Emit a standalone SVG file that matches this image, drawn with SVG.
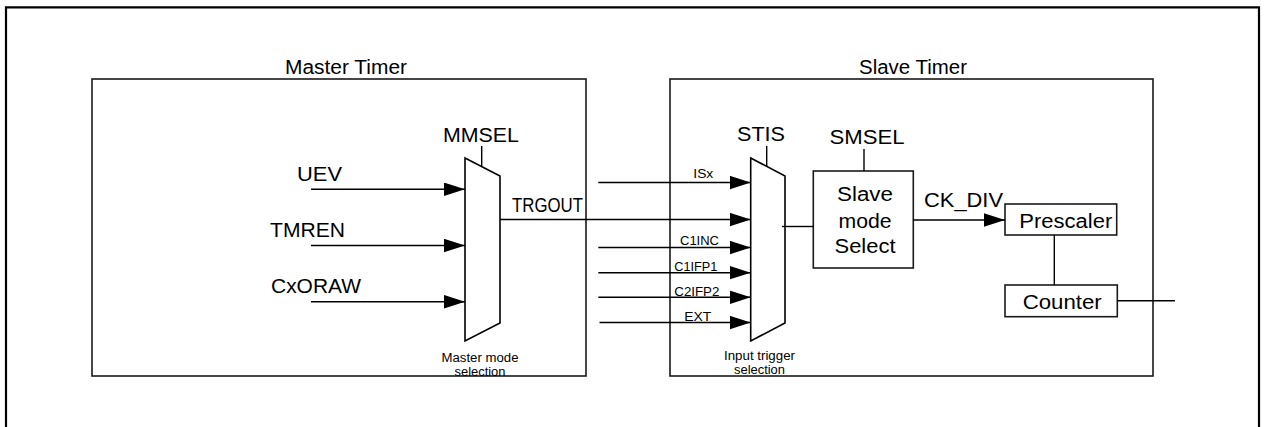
<svg xmlns="http://www.w3.org/2000/svg" width="1265" height="427" viewBox="0 0 1265 427">
<defs>
<marker id="arr" markerUnits="userSpaceOnUse" markerWidth="22" markerHeight="14" refX="21" refY="6.75" orient="auto">
<path d="M0,0 L21,6.75 L0,13.5 z" fill="#000"/>
</marker>
<style>
text{font-family:"Liberation Sans",Arial,sans-serif;fill:#000}
.frame{fill:none;stroke:#000;stroke-width:2.2}
.box{fill:#fff;stroke:#1a1a1a;stroke-width:1.6}
.mux{fill:#fff;stroke:#000;stroke-width:1.6}
.ln{fill:none;stroke:#000;stroke-width:1.4}
.ar{fill:none;stroke:#000;stroke-width:1.4;marker-end:url(#arr)}
.t20{font-size:20px}
.t12{font-size:12px}
.t11{font-size:11.5px}
</style>
</defs>
<rect width="1265" height="427" fill="#fff"/>
<path class="frame" d="M6,432 V7.3 H1259 V432"/>

<g id="master-timer">
<rect class="box" x="92" y="79" width="494" height="297"/>
<text class="t20" x="346" y="74" text-anchor="middle" textLength="122" lengthAdjust="spacingAndGlyphs">Master Timer</text>
</g>

<g id="slave-timer">
<rect class="box" x="670" y="79" width="483" height="297"/>
<text class="t20" x="913" y="74" text-anchor="middle" textLength="108" lengthAdjust="spacingAndGlyphs">Slave Timer</text>
</g>

<g id="mmsel-mux">
<polygon class="mux" points="465,158 500,176 500,323 465,341"/>
<text class="t20" x="481" y="141.7" text-anchor="middle" textLength="76" lengthAdjust="spacingAndGlyphs">MMSEL</text>
<text class="t12" x="480" y="362" text-anchor="middle" textLength="77" lengthAdjust="spacingAndGlyphs">Master mode</text>
<text class="t12" x="480" y="375.5" text-anchor="middle" textLength="51" lengthAdjust="spacingAndGlyphs">selection</text>
</g>

<g id="stis-mux">
<polygon class="mux" points="750.7,158 785,176 785,323 750.7,341"/>
<text class="t20" x="761" y="141" text-anchor="middle" textLength="48" lengthAdjust="spacingAndGlyphs">STIS</text>
<text class="t12" x="759.5" y="360" text-anchor="middle" textLength="71" lengthAdjust="spacingAndGlyphs">Input trigger</text>
<text class="t12" x="759.5" y="374" text-anchor="middle" textLength="51" lengthAdjust="spacingAndGlyphs">selection</text>
</g>

<g id="slave-mode-select">
<rect class="box" x="813.3" y="171" width="100" height="97"/>
<text class="t20" x="867" y="144.3" text-anchor="middle" textLength="75" lengthAdjust="spacingAndGlyphs">SMSEL</text>
<text class="t20" x="865" y="200.7" text-anchor="middle" textLength="56" lengthAdjust="spacingAndGlyphs">Slave</text>
<text class="t20" x="865" y="228.3" text-anchor="middle" textLength="53" lengthAdjust="spacingAndGlyphs">mode</text>
<text class="t20" x="865" y="252.7" text-anchor="middle" textLength="61" lengthAdjust="spacingAndGlyphs">Select</text>
</g>

<g id="prescaler">
<rect class="box" x="1005" y="204" width="111.7" height="31"/>
<text class="t20" x="1065.8" y="227.7" text-anchor="middle" textLength="93" lengthAdjust="spacingAndGlyphs">Prescaler</text>
</g>

<g id="counter">
<rect class="box" x="1005" y="285" width="112.3" height="31.7"/>
<text class="t20" x="1062.2" y="309" text-anchor="middle" textLength="79" lengthAdjust="spacingAndGlyphs">Counter</text>
</g>

<g id="connectors">
<line class="ln" x1="481.7" y1="146" x2="481.7" y2="166.5"/>
<line class="ln" x1="766.7" y1="146" x2="766.7" y2="166.3"/>
<line class="ln" x1="864" y1="149" x2="864" y2="171"/>
<line class="ar" x1="311" y1="189.3" x2="465" y2="189.3"/>
<line class="ar" x1="311" y1="245.5" x2="465" y2="245.5"/>
<line class="ar" x1="311" y1="301.7" x2="465" y2="301.7"/>
<line class="ar" x1="500" y1="219.5" x2="750.7" y2="219.5"/>
<line class="ar" x1="598.3" y1="182.5" x2="750.7" y2="182.5"/>
<line class="ar" x1="598.3" y1="247.5" x2="750.7" y2="247.5"/>
<line class="ar" x1="598.3" y1="272.7" x2="750.7" y2="272.7"/>
<line class="ar" x1="598.3" y1="297.3" x2="750.7" y2="297.3"/>
<line class="ar" x1="599.5" y1="322.5" x2="750.7" y2="322.5"/>
<line class="ln" x1="782" y1="226.5" x2="813.3" y2="226.5"/>
<line class="ar" x1="913.3" y1="220" x2="1005" y2="220"/>
<line class="ln" x1="1054.3" y1="235" x2="1054.3" y2="285"/>
<line class="ln" x1="1117.3" y1="300.7" x2="1175" y2="300.7"/>
<text class="t20" x="297" y="181" textLength="45" lengthAdjust="spacingAndGlyphs">UEV</text>
<text class="t20" x="270" y="237.3" textLength="75" lengthAdjust="spacingAndGlyphs">TMREN</text>
<text class="t20" x="271" y="293.3" textLength="90" lengthAdjust="spacingAndGlyphs">CxORAW</text>
<text class="t20" x="512" y="211.7" textLength="71" lengthAdjust="spacingAndGlyphs">TRGOUT</text>
<text class="t12" x="693.3" y="177.7" textLength="20" lengthAdjust="spacingAndGlyphs">ISx</text>
<text class="t12" x="680" y="245" textLength="39" lengthAdjust="spacingAndGlyphs">C1INC</text>
<text class="t12" x="674.3" y="270.7" textLength="43" lengthAdjust="spacingAndGlyphs">C1IFP1</text>
<text class="t12" x="674.3" y="295.7" textLength="45" lengthAdjust="spacingAndGlyphs">C2IFP2</text>
<text class="t12" x="684.3" y="321" textLength="27" lengthAdjust="spacingAndGlyphs">EXT</text>
<text class="t20" x="924" y="206.7" textLength="79" lengthAdjust="spacingAndGlyphs">CK_DIV</text>
</g>
</svg>
